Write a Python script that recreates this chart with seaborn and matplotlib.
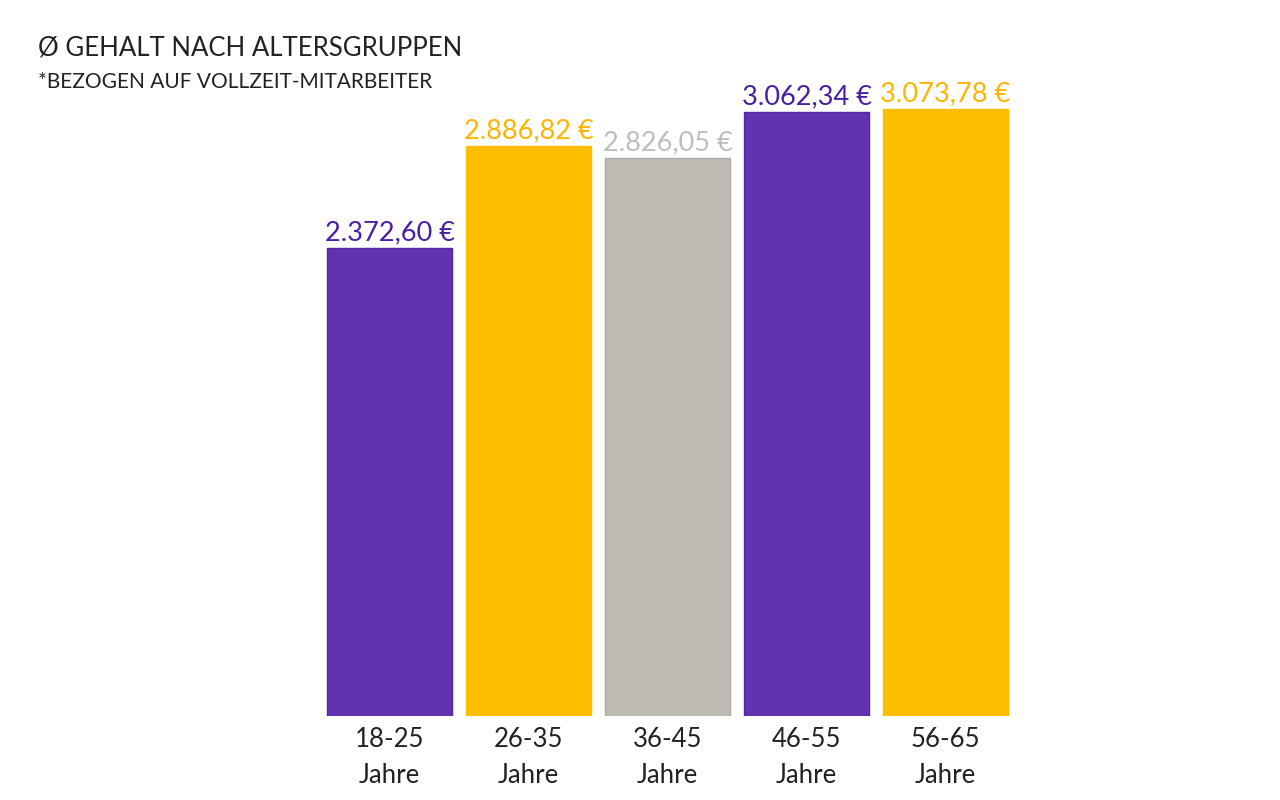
import pandas as pd
import matplotlib.pyplot as plt
import seaborn as sns

gruppen = ["18-25\nJahre", "26-35\nJahre", "36-45\nJahre", "46-55\nJahre", "56-65\nJahre"]
gehalt = [2372.60, 2886.82, 2826.05, 3062.34, 3073.78]
bar_farben = ["#6232B0", "#FFBE00", "#BEBAB4", "#6232B0", "#FFBE00"]
label_farben = ["#4A1EA6", "#FFB400", "#BDBDBD", "#4A1EA6", "#FFB400"]
rand_farben = ["#5326A3", "#FFBE00", "#B0ABA5", "#5326A3", "#FFBE00"]

df = pd.DataFrame({"Gruppe": gruppen, "Gehalt": gehalt})

sns.set_style("white")
plt.rcParams["font.family"] = ["Lato", "DejaVu Sans"]

fig = plt.figure(figsize=(12.8, 8), dpi=100)
ax = fig.add_axes([0.25, 0.105, 0.543, 0.814])

sns.barplot(data=df, x="Gruppe", y="Gehalt", hue="Gruppe", palette=bar_farben,
            legend=False, width=0.9, dodge=False, saturation=1, ax=ax)


def euro(v):
    s = f"{v:,.2f}".replace(",", "X").replace(".", ",").replace("X", ".")
    return s + " €"


# one container per hue level -> one bar each
for cont, v, fc, lc in zip(ax.containers, gehalt, rand_farben, label_farben):
    for patch in cont:
        patch.set_edgecolor(fc)
        patch.set_linewidth(1)
    ax.bar_label(cont, labels=[euro(v)], padding=2, fontsize=19.5, color=lc)

ax.set_ylim(0, 3300)
ax.set_xlim(-0.5, 4.5)
ax.set_xlabel("")
ax.set_ylabel("")
ax.set_yticks([])
ax.tick_params(axis="x", length=0, pad=8, labelsize=18.5, labelcolor="#222222")
for lbl in ax.get_xticklabels():
    lbl.set_linespacing(1.55)
sns.despine(ax=ax, left=True, bottom=True)

fig.text(0.03, 0.94, "Ø GEHALT NACH ALTERSGRUPPEN", fontsize=18.5,
         color="#222222", va="center")
fig.text(0.03, 0.898, "*BEZOGEN AUF VOLLZEIT-MITARBEITER", fontsize=15,
         color="#222222", va="center")

fig.savefig("out.png", dpi=100, facecolor="white")
